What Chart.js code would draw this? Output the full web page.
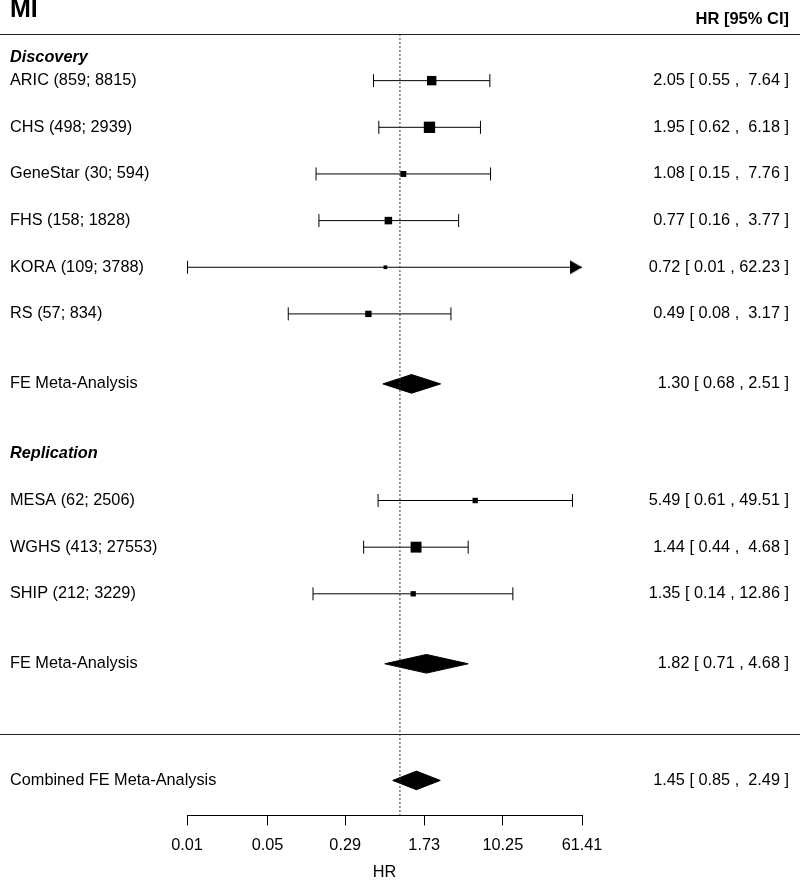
<!DOCTYPE html>
<html>
<head>
<meta charset="utf-8">
<script src="https://cdn.jsdelivr.net/npm/chart.js@4.4.0/dist/chart.umd.min.js"></script>
<style>
html, body { margin: 0; padding: 0; background: #fff; }
#wrap { width: 800px; height: 881px; }
</style>
</head>
<body>
<div id="wrap"><canvas id="forest"></canvas></div>
<script>
// study rows (row 0 = first study, counted downwards)
const studyLabels = ["ARIC (859; 8815)", "CHS (498; 2939)", "GeneStar (30; 594)", "FHS (158; 1828)",
    "KORA (109; 3788)", "RS (57; 834)", "MESA (62; 2506)", "WGHS (413; 27553)", "SHIP (212; 3229)"];
const studyRows = [0, 1, 2, 3, 4, 5, 9, 10, 11];
const studyHR = [2.05, 1.95, 1.08, 0.77, 0.72, 0.49, 5.49, 1.44, 1.35];
const studyLower = [0.55, 0.62, 0.15, 0.16, 0.0082, 0.08, 0.61, 0.44, 0.14];
const studyUpper = [7.64, 6.18, 7.76, 3.77, 62.23, 3.17, 49.51, 4.68, 12.86];

const summaryLabels = ["FE Meta-Analysis", "FE Meta-Analysis", "Combined FE Meta-Analysis"];
const summaryRows = [6.5, 12.5, 15];
const summaryHR = [1.30, 1.82, 1.45];
const summaryLower = [0.68, 0.71, 0.85];
const summaryUpper = [2.51, 4.68, 2.49];

const groupLabels = ["Discovery", "Replication"];
const groupRows = [-0.5, 8];

const ruleRows = [-1, 14];

const tickValues = [0.0081, 0.05, 0.29, 1.73, 10.25, 61.41];
const tickLabels = ["0.01", "0.05", "0.29", "1.73", "10.25", "61.41"];

const xMin = tickValues[0];
const xMax = tickValues[tickValues.length - 1];
const yMin = -1;
const yMax = 15.75;

const FONT = "'Liberation Sans', Arial, sans-serif";
const SIZE = 16.3;
Chart.defaults.font.family = FONT;
Chart.defaults.font.size = SIZE;
Chart.defaults.color = "#000";

function fmtCI(est, lo, hi, width) {
    return est.toFixed(2) + " [ " + lo.toFixed(2) + " , " + hi.toFixed(2).padStart(width, " ") + " ]";
}

// right-pointing arrow, tip at the image centre
function makeArrow() {
    const c = document.createElement("canvas");
    c.width = 26;
    c.height = 16;
    const g = c.getContext("2d");
    g.fillStyle = "#000";
    g.beginPath();
    g.moveTo(13, 8);
    g.lineTo(1, 1);
    g.lineTo(1, 15);
    g.closePath();
    g.fill();
    return c;
}
const arrow = makeArrow();

const datasets = [];

// reference line at HR = 1
datasets.push({
    data: [{ x: 1, y: yMin }, { x: 1, y: yMax }],
    showLine: true,
    borderColor: "#333",
    borderWidth: 1,
    borderDash: [2, 2],
    pointRadius: 0,
});

// confidence intervals
studyHR.forEach((est, i) => {
    const clipped = studyUpper[i] > xMax;
    datasets.push({
        data: [
            { x: studyLower[i], y: studyRows[i] },
            { x: Math.min(studyUpper[i], xMax), y: studyRows[i] },
        ],
        showLine: true,
        borderColor: "#000",
        borderWidth: 1,
        pointStyle: ["line", clipped ? arrow : "line"],
        pointRotation: [90, clipped ? 0 : 90],
        pointRadius: 6.5,
        pointBorderColor: "#000",
        pointBorderWidth: 1,
        clip: false,
    });
});

// boxes sized by inverse-variance weight
const boxRadius = studyHR.map((est, i) => {
    const se = (Math.log(studyUpper[i]) - Math.log(studyLower[i])) / 3.92;
    const w = 1 / (se * se);
    return (3.2 + 2.8 * w) / Math.SQRT2;
});
datasets.push({
    data: studyHR.map((est, i) => ({ x: est, y: studyRows[i] })),
    pointStyle: "rect",
    pointRadius: boxRadius,
    pointBackgroundColor: "#000",
    pointBorderWidth: 0,
    clip: false,
});

// summary diamonds
summaryHR.forEach((est, i) => {
    const r = summaryRows[i];
    datasets.push({
        data: [
            { x: summaryLower[i], y: r },
            { x: est, y: r - 0.2 },
            { x: summaryUpper[i], y: r },
            { x: est, y: r + 0.2 },
            { x: summaryLower[i], y: r },
        ],
        showLine: true,
        fill: "shape",
        backgroundColor: "#000",
        borderColor: "#000",
        borderWidth: 1,
        pointRadius: 0,
    });
});

const forestText = {
    id: "forestText",
    beforeDatasetsDraw(chart) {
        const ctx = chart.ctx;
        const y = chart.scales.y;
        ctx.save();
        ctx.strokeStyle = "#222";
        ctx.lineWidth = 1;
        ruleRows.forEach((r) => {
            const py = Math.round(y.getPixelForValue(r)) + 0.5;
            ctx.beginPath();
            ctx.moveTo(0, py);
            ctx.lineTo(chart.width, py);
            ctx.stroke();
        });
        ctx.restore();
    },
    afterDraw(chart) {
        const ctx = chart.ctx;
        const y = chart.scales.y;
        const leftX = 10;
        const rightX = chart.width - 11;
        ctx.save();
        ctx.fillStyle = "#000";

        ctx.textBaseline = "alphabetic";
        ctx.textAlign = "left";
        ctx.font = "bold 25px " + FONT;
        ctx.fillText("MI", leftX, 17);
        ctx.textAlign = "right";
        ctx.font = "bold 16.5px " + FONT;
        ctx.fillText("HR [95% CI]", rightX, 24);

        ctx.textBaseline = "middle";
        ctx.textAlign = "left";
        ctx.font = "italic bold " + SIZE + "px " + FONT;
        groupLabels.forEach((t, i) => ctx.fillText(t, leftX, y.getPixelForValue(groupRows[i])));

        ctx.font = SIZE + "px " + FONT;
        studyLabels.forEach((t, i) => ctx.fillText(t, leftX, y.getPixelForValue(studyRows[i])));
        summaryLabels.forEach((t, i) => ctx.fillText(t, leftX, y.getPixelForValue(summaryRows[i])));

        ctx.textAlign = "right";
        studyHR.forEach((est, i) => {
            ctx.fillText(fmtCI(est, studyLower[i], studyUpper[i], 5), rightX, y.getPixelForValue(studyRows[i]));
        });
        summaryHR.forEach((est, i) => {
            const width = i === summaryHR.length - 1 ? 5 : 4;
            ctx.fillText(fmtCI(est, summaryLower[i], summaryUpper[i], width), rightX, y.getPixelForValue(summaryRows[i]));
        });
        ctx.restore();
    },
};

new Chart(document.getElementById("forest"), {
    type: "scatter",
    data: { datasets: datasets },
    options: {
        responsive: true,
        maintainAspectRatio: false,
        animation: false,
        layout: { padding: { left: 187, right: 218, top: 34, bottom: 0 } },
        plugins: {
            legend: { display: false },
            tooltip: { enabled: false },
        },
        scales: {
            x: {
                type: "logarithmic",
                min: xMin,
                max: xMax,
                afterBuildTicks: (scale) => {
                    scale.ticks = tickValues.map((v) => ({ value: v }));
                },
                ticks: {
                    autoSkip: false,
                    maxRotation: 0,
                    padding: 11.5,
                    font: { size: SIZE, lineHeight: 1 },
                    color: "#000",
                    callback: (value, index) => tickLabels[index],
                },
                grid: {
                    display: true,
                    drawOnChartArea: false,
                    drawTicks: true,
                    tickLength: 10,
                    color: "#000",
                },
                border: { display: true, color: "#000", width: 1 },
                title: {
                    display: true,
                    text: "HR",
                    font: { size: SIZE, lineHeight: 1 },
                    padding: { top: 0, bottom: 0 },
                    color: "#000",
                },
            },
            y: {
                type: "linear",
                reverse: true,
                min: yMin,
                max: yMax,
                display: false,
            },
        },
    },
    plugins: [forestText],
});
</script>
</body>
</html>
